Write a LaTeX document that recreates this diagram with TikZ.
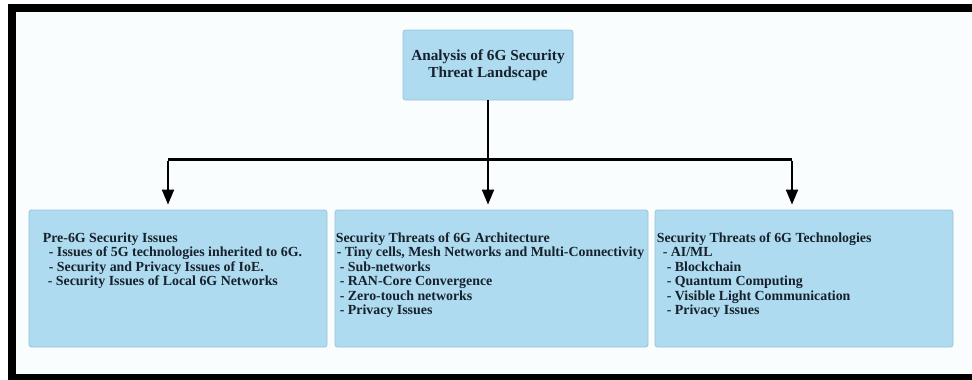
\documentclass[tikz,border=0pt]{standalone}
\usepackage{fontspec}
\setmainfont{Liberation Serif}
\usetikzlibrary{arrows.meta,positioning}
\definecolor{threatfill}{HTML}{AEDBEF}
\definecolor{threatedge}{HTML}{96C4DA}
\definecolor{threattext}{HTML}{16212C}
\definecolor{pagebg}{HTML}{FAFDFE}
\tikzstyle{threatbox} = [draw=threatedge, fill=threatfill, rounded corners=2.5pt, line width=0.8pt]
\tikzstyle{arrow} = [-{Triangle[length=15pt,width=12pt]}, line width=1.8pt, black]
\tikzstyle{boxtext} = [align=left, inner sep=0pt, font=\bfseries\fontsize{13.9}{14.4}\selectfont, text=threattext]

\begin{document}
\begin{tikzpicture}[x=1pt, y=-1pt]
\clip (0,0) rectangle (972,380);
\fill[white] (0,0) rectangle (972,380);
\fill[pagebg] (11.5,8) rectangle (972,378);
\draw[line width=8pt] (990,8) -- (11.5,8) -- (11.5,378) -- (990,378);

% root and the three branches
\node[threatbox, minimum width=170pt, minimum height=70pt, align=center, text=threattext,
  font=\bfseries\fontsize{15.3}{17}\selectfont] (landscape) at (488,65)
  {Analysis of 6G Security\\Threat Landscape};
\node[threatbox, minimum width=298pt, minimum height=137pt] (pre6g) at (178,278.5) {};
\node[threatbox, minimum width=313pt, minimum height=137pt] (arch) at (491.5,278.5) {};
\node[threatbox, minimum width=298pt, minimum height=137pt] (tech) at (804,278.5) {};

\node[boxtext, below right=23pt and 14pt of pre6g.north west] (pre6gtext)
  {Pre-6G Security Issues\\
   \hspace*{6pt}- Issues of 5G technologies inherited to 6G.\\
   \hspace*{6pt}- Security and Privacy Issues of IoE.\\
   \hspace*{5pt}- Security Issues of Local 6G Networks};
\node[boxtext, below right=23pt and 1pt of arch.north west] (archtext)
  {Security Threats of 6G Architecture\\
   \hspace*{1pt}- Tiny cells, Mesh Networks and Multi-Connectivity\\
   \hspace*{4pt}- Sub-networks\\
   \hspace*{4pt}- RAN-Core Convergence\\
   \hspace*{4pt}- Zero-touch networks\\
   \hspace*{4pt}- Privacy Issues};
\node[boxtext, below right=23pt and 2pt of tech.north west] (techtext)
  {Security Threats of 6G Technologies\\
   \hspace*{6pt}- AI/ML\\
   \hspace*{10pt}- Blockchain\\
   \hspace*{10pt}- Quantum Computing\\
   \hspace*{10pt}- Visible Light Communication\\
   \hspace*{10pt}- Privacy Issues};

% connectors
\coordinate (dropL) at (168,159);
\coordinate (dropR) at (792,159);
\draw[line width=3pt] (dropL) -- (dropR);
\draw[arrow, shorten >=5pt] (landscape.south) -- (landscape.south |- arch.north);
\draw[arrow, shorten >=5pt] ([yshift=-1.5pt]dropL) -- (dropL |- pre6g.north);
\draw[arrow, shorten >=5pt] ([yshift=-1.5pt]dropR) -- (dropR |- tech.north);
\end{tikzpicture}
\end{document}
